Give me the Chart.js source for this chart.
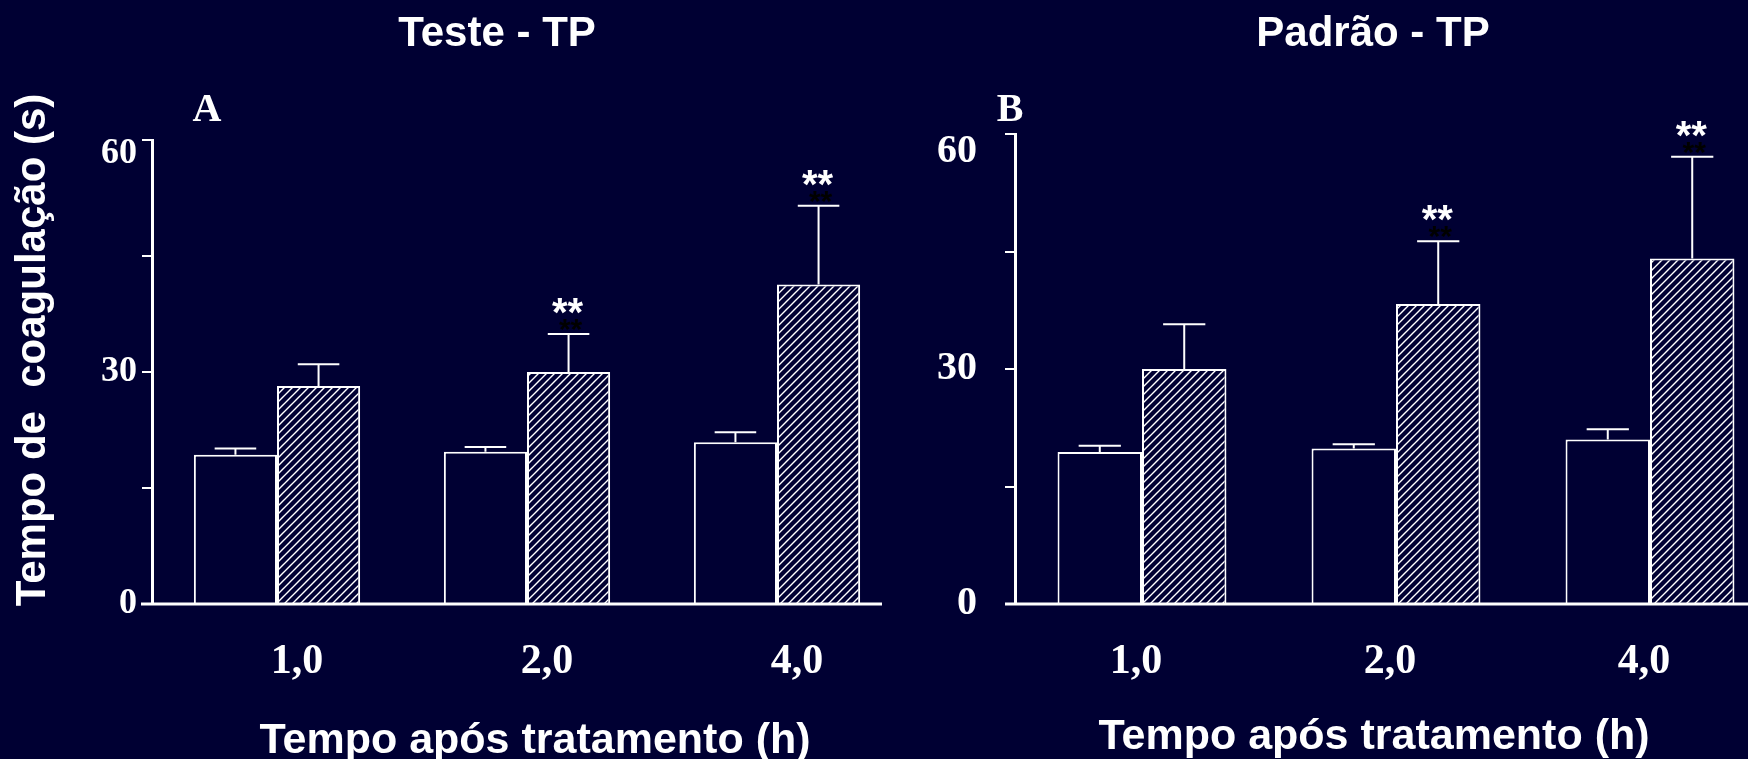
<!DOCTYPE html>
<html>
<head>
<meta charset="utf-8">
<script src="https://cdn.jsdelivr.net/npm/chart.js@4.4.1/dist/chart.umd.min.js"></script>
<style>
  html, body { margin: 0; padding: 0; background: #000033; overflow: hidden; width: 1748px; height: 759px; }
  canvas { position: absolute; top: 0; }
  #chartA { left: 0; }
  #chartB { left: 874px; }
</style>
</head>
<body>
<canvas id="chartA" width="920" height="759"></canvas>
<canvas id="chartB" width="930" height="759"></canvas>
<script>
// ====================== Data ======================
const categories = ["1,0", "2,0", "4,0"];
const yTickLabels = [0, 30, 60];

// Teste - TP
const testeControl = [19.3, 19.7, 20.9];
const testeControlErr = [0.8, 0.6, 1.3];
const testeTreated = [28.2, 30.0, 41.3];
const testeTreatedErr = [2.8, 4.9, 10.2];
const testeSig = ["", "**", "**"];

// Padrão - TP
const padraoControl = [19.4, 19.85, 21.0];
const padraoControlErr = [0.8, 0.55, 1.3];
const padraoTreated = [30.0, 38.3, 44.1];
const padraoTreatedErr = [5.7, 8.0, 13.0];
const padraoSig = ["", "**", "**"];

const BG = "#000033";
const SANS = "'Liberation Sans', Arial, sans-serif";
const SERIF = "'Liberation Serif', 'Times New Roman', serif";

// diagonal hatch for the treated bars
function hatchPattern() {
  const c = document.createElement("canvas");
  c.width = 8; c.height = 8;
  const g = c.getContext("2d");
  g.fillStyle = BG;
  g.fillRect(0, 0, 8, 8);
  g.strokeStyle = "#ffffff";
  g.lineWidth = 1.4;
  g.beginPath();
  g.moveTo(0, 8); g.lineTo(8, 0);
  g.moveTo(-1, 1); g.lineTo(1, -1);
  g.moveTo(7, 9); g.lineTo(9, 7);
  g.stroke();
  return g.createPattern(c, "repeat");
}

function drawText(ctx, text, x, y, font, color, rotate) {
  ctx.save();
  ctx.translate(x, y);
  if (rotate) ctx.rotate(rotate);
  ctx.font = font;
  ctx.fillStyle = color || "#ffffff";
  ctx.textAlign = "center";
  ctx.textBaseline = "middle";
  ctx.fillText(text, 0, 0);
  ctx.restore();
}

// error bars, asterisks, baseline and panel labels
const panelPlugin = {
  id: "panel",
  afterDatasetsDraw(chart, args, opts) {
    const ctx = chart.ctx;
    const yScale = chart.scales.y;
    ctx.save();

    chart.data.datasets.forEach((ds, i) => {
      const meta = chart.getDatasetMeta(i);
      meta.data.forEach((bar, j) => {
        const top = yScale.getPixelForValue(ds.data[j] + ds.errors[j]);
        const half = bar.width / 4;
        ctx.strokeStyle = "#ffffff";
        ctx.lineWidth = 2;
        ctx.beginPath();
        ctx.moveTo(bar.x, bar.y);
        ctx.lineTo(bar.x, top);
        ctx.moveTo(bar.x - half, top);
        ctx.lineTo(bar.x + half, top);
        ctx.stroke();

        const mark = ds.sig ? ds.sig[j] : "";
        if (mark) {
          ctx.font = "bold 30px " + SANS;
          ctx.fillStyle = "#000000";
          ctx.textAlign = "center";
          ctx.textBaseline = "alphabetic";
          ctx.fillText(mark, bar.x + 2, top + 5);
          ctx.font = "bold 40px " + SANS;
          ctx.fillStyle = "#ffffff";
          ctx.fillText(mark, bar.x - 1, top - 8);
        }
      });
    });

    // x axis line
    const zeroY = yScale.getPixelForValue(0);
    ctx.strokeStyle = "#ffffff";
    ctx.lineWidth = 3;
    ctx.beginPath();
    ctx.moveTo(opts.baseFrom, zeroY);
    ctx.lineTo(opts.baseTo, zeroY);
    ctx.stroke();

    drawText(ctx, opts.title, opts.titleX, 34, "bold 42px " + SANS);
    drawText(ctx, opts.letter, opts.letterX, opts.letterY, "bold 40px " + SERIF);
    drawText(ctx, "Tempo após tratamento (h)", opts.xTitleX, opts.xTitleY, "bold 43px " + SANS);
    if (opts.yTitle) {
      drawText(ctx, opts.yTitle, 33, 350, "bold 42px " + SANS, "#ffffff", -Math.PI / 2);
    }
    ctx.restore();
  }
};

function makeChart(id, control, controlErr, treated, treatedErr, sig, p) {
  const ctx = document.getElementById(id).getContext("2d");
  return new Chart(ctx, {
    type: "bar",
    data: {
      labels: categories,
      datasets: [{
        label: "Controle",
        data: control,
        errors: controlErr,
        backgroundColor: BG,
        borderColor: "#ffffff",
        borderWidth: 2,
        borderSkipped: "start"
      }, {
        label: "Tratado",
        data: treated,
        errors: treatedErr,
        sig: sig,
        backgroundColor: hatchPattern(),
        borderColor: "#ffffff",
        borderWidth: 2,
        borderSkipped: "start"
      }]
    },
    options: {
      responsive: false,
      animation: false,
      devicePixelRatio: 1,
      categoryPercentage: 0.665,
      barPercentage: 1,
      layout: { padding: { top: p.top, left: 0, right: p.right, bottom: 0 } },
      plugins: {
        legend: { display: false },
        tooltip: { enabled: false },
        panel: p.panel
      },
      scales: {
        x: {
          grid: { display: false },
          border: { display: false },
          ticks: {
            color: "#ffffff",
            font: { family: SERIF, size: 42, weight: "bold" },
            padding: 25,
            labelOffset: p.labelOffset,
            maxRotation: 0
          },
          afterFit: (scale) => { scale.height = 155; }
        },
        y: {
          min: 0,
          max: 60,
          grid: {
            display: true,
            drawOnChartArea: false,
            drawTicks: true,
            tickLength: 10,
            color: "#ffffff",
            lineWidth: 2
          },
          border: { display: true, color: "#ffffff", width: 3 },
          ticks: {
            stepSize: 15,
            color: "#ffffff",
            // the top label sits a little below its tick in the original
            font: (c) => ({
              family: SERIF, size: p.yFont, weight: "bold",
              lineHeight: c.tick && c.tick.value === 60 ? p.topShift : 1.2
            }),
            padding: p.yPad,
            callback: (v) => {
              if (!yTickLabels.includes(v)) return "";
              return v === 60 ? ["", String(v)] : String(v);
            }
          },
          afterFit: (scale) => { scale.width = p.yWidth; }
        }
      }
    },
    plugins: [panelPlugin]
  });
}

makeChart("chartA", testeControl, testeControlErr, testeTreated, testeTreatedErr, testeSig, {
  top: 140, right: 18, yWidth: 152, yFont: 36, yPad: 5, labelOffset: 20, topShift: 0.78,
  panel: {
    title: "Teste - TP", titleX: 497,
    letter: "A", letterX: 207, letterY: 111,
    xTitleX: 535, xTitleY: 741,
    yTitle: "Tempo de  coagulação (s)",
    baseFrom: 141, baseTo: 882
  }
});

makeChart("chartB", padraoControl, padraoControlErr, padraoTreated, padraoTreatedErr, padraoSig, {
  top: 134, right: 27, yWidth: 141, yFont: 40, yPad: 28, labelOffset: -6, topShift: 0.9,
  panel: {
    title: "Padrão - TP", titleX: 499,
    letter: "B", letterX: 136, letterY: 111,
    xTitleX: 500, xTitleY: 737,
    yTitle: "",
    baseFrom: 131, baseTo: 930
  }
});
</script>
</body>
</html>
